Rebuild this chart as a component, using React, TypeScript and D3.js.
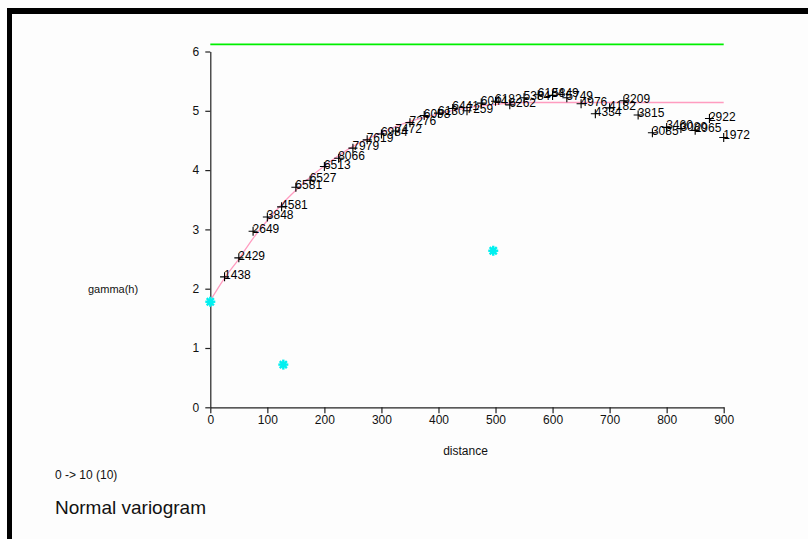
import React, { useEffect, useRef } from "react";
import * as d3 from "d3";

// Experimental variogram: lag distances, semivariance and number of pairs per lag
const lags = [
  25, 50, 75, 100, 125, 150, 175, 200, 225, 250, 275, 300, 325, 350, 375, 400, 425, 450,
  475, 500, 525, 550, 575, 600, 625, 650, 675, 700, 725, 750, 775, 800, 825, 850, 875, 900,
];
const gammas = [
  2.2, 2.52, 2.97, 3.21, 3.38, 3.71, 3.83, 4.06, 4.2, 4.37, 4.51, 4.61, 4.66, 4.8, 4.92, 4.96,
  5.04, 5.0, 5.13, 5.16, 5.1, 5.22, 5.27, 5.26, 5.22, 5.12, 4.95, 5.05, 5.17, 4.93, 4.63, 4.72,
  4.7, 4.67, 4.87, 4.55,
];
const pairCounts = [
  "1438", "2429", "2649", "3848", "4581", "6581", "6527", "6513", "8066", "7979", "7619", "6984",
  "7472", "7276", "6098", "6130", "6441", "7259", "6044", "6182", "6262", "5384", "6184", "5849",
  "5749", "4976", "4334", "4182", "3209", "3815", "3085", "3460", "3080", "2965", "2922", "1972",
];

// Fitted model curve
const modelDist = [0, 25, 50, 75, 100, 125, 150, 175, 200, 250, 300, 350, 400, 450, 500, 550, 600, 900];
const modelGamma = [1.8, 2.18, 2.5, 2.85, 3.15, 3.42, 3.66, 3.88, 4.07, 4.4, 4.63, 4.82, 4.95, 5.05, 5.11, 5.14, 5.14, 5.14];

// Highlighted points
const hiDist = [0, 128, 496];
const hiGamma = [1.78, 0.72, 2.64];

// Sample variance line
const varianceLevel = 6.12;

const xTicks = [0, 100, 200, 300, 400, 500, 600, 700, 800, 900];
const yTicks = [0, 1, 2, 3, 4, 5, 6];

const FONT = "'Liberation Sans', Arial, sans-serif";

export default function App() {
  const ref = useRef<SVGSVGElement>(null);

  useEffect(() => {
    const svg = d3.select(ref.current);
    svg.selectAll("*").remove();

    const W = 808;
    const H = 539;
    svg.append("rect").attr("width", W).attr("height", H).attr("fill", "#fdfdfd");
    // frame
    svg.append("rect").attr("x", 7).attr("y", 8).attr("width", W - 7).attr("height", 6).attr("fill", "#000");
    svg.append("rect").attr("x", 7).attr("y", 8).attr("width", 5).attr("height", H - 8).attr("fill", "#000");

    const x = d3.scaleLinear().domain([0, 900]).range([210.3, 723.7]);
    const y = d3.scaleLinear().domain([0, 6]).range([407.3, 51.5]);

    // variance line
    svg
      .append("line")
      .attr("x1", x(0))
      .attr("x2", x(900))
      .attr("y1", y(varianceLevel))
      .attr("y2", y(varianceLevel))
      .attr("stroke", "#00f000")
      .attr("stroke-width", 1.6);

    // axes
    const fmt = d3.format("d");
    const xAxis = svg
      .append("g")
      .attr("transform", `translate(0,${y(0)})`)
      .call(d3.axisBottom(x).tickValues(xTicks).tickFormat(fmt).tickSize(6).tickSizeOuter(0).tickPadding(2));
    const yAxis = svg
      .append("g")
      .attr("transform", `translate(${x(0)},0)`)
      .call(d3.axisLeft(y).tickValues(yTicks).tickFormat(fmt).tickSize(5).tickSizeOuter(0).tickPadding(6));
    [xAxis, yAxis].forEach((g) => {
      g.selectAll("path,line").attr("stroke", "#222").attr("stroke-width", 1.2);
      g.selectAll("text").attr("font-family", FONT).attr("font-size", 12).attr("fill", "#111");
    });

    // model curve
    const line = d3
      .line<number>()
      .x((_, i) => x(modelDist[i]))
      .y((d) => y(d))
      .curve(d3.curveMonotoneX);
    svg
      .append("path")
      .attr("d", line(modelGamma))
      .attr("fill", "none")
      .attr("stroke", "#ff9cc0")
      .attr("stroke-width", 1.3);

    // experimental points with pair counts
    const pts = svg.append("g");
    lags.forEach((d, i) => {
      const cx = x(d);
      const cy = y(gammas[i]);
      pts
        .append("path")
        .attr("d", `M${cx - 4.5},${cy}H${cx + 4.5}M${cx},${cy - 4.5}V${cy + 4.5}`)
        .attr("stroke", "#000")
        .attr("stroke-width", 1.1);
      pts
        .append("text")
        .attr("x", cx - 0.5)
        .attr("y", cy + 2)
        .attr("font-family", FONT)
        .attr("font-size", 12)
        .attr("fill", "#000")
        .text(pairCounts[i]);
    });

    // highlighted points as cyan asterisks
    const hi = svg.append("g");
    hiDist.forEach((d, i) => {
      const cx = x(d);
      const cy = y(hiGamma[i]);
      const r = 5;
      [0, 45, 90, 135].forEach((a) => {
        const rad = (a * Math.PI) / 180;
        hi.append("line")
          .attr("x1", cx - r * Math.cos(rad))
          .attr("y1", cy - r * Math.sin(rad))
          .attr("x2", cx + r * Math.cos(rad))
          .attr("y2", cy + r * Math.sin(rad))
          .attr("stroke", "#00f0f0")
          .attr("stroke-width", 2.4);
      });
      hi.append("circle").attr("cx", cx).attr("cy", cy).attr("r", 3).attr("fill", "#00f0f0");
    });

    // titles
    const txt = (tx: number, ty: number, s: string, size: number, anchor = "start") =>
      svg
        .append("text")
        .attr("x", tx)
        .attr("y", ty)
        .attr("font-family", FONT)
        .attr("font-size", size)
        .attr("text-anchor", anchor)
        .attr("fill", "#111")
        .text(s);
    txt(88, 293, "gamma(h)", 11);
    txt(465.5, 455, "distance", 12, "middle");
    txt(55, 479, "0 -> 10 (10)", 12);
    txt(55, 514, "Normal variogram", 19);
  }, []);

  return (
    <svg
      ref={ref}
      width={808}
      height={539}
      style={{ position: "absolute", left: 0, top: 0, display: "block" }}
    />
  );
}
